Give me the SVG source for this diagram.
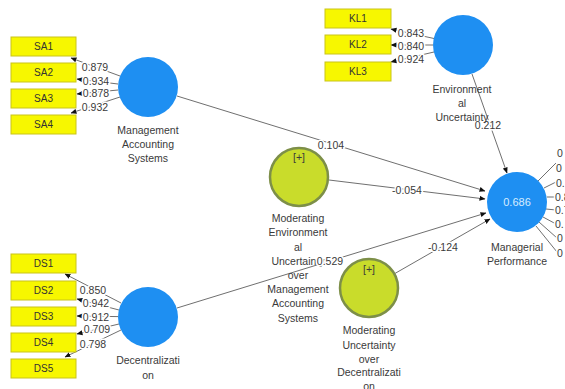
<svg xmlns="http://www.w3.org/2000/svg" width="565" height="389" viewBox="0 0 565 389">
<style>
  .bg { fill: #ffffff; }
  .ind rect { fill: #f7f700; stroke: #c9c41a; stroke-width: 1; }
  .ind text { font-family: "Liberation Sans", Arial, sans-serif; font-size: 10px; fill: #333; text-anchor: middle; }
  .lv { fill: #1e8ff2; }
  .mod { fill: #c9dc2b; stroke: #7d8f48; stroke-width: 2.5; }
  .lbl { font-family: "Liberation Sans", Arial, sans-serif; font-size: 10.5px; fill: #3a3a3a; text-anchor: middle; }
  .num { font-family: "Liberation Sans", Arial, sans-serif; font-size: 10.5px; fill: #3a3a3a; text-anchor: middle; stroke: #ffffff; stroke-width: 3; paint-order: stroke; stroke-linejoin: round; }
  .numl { font-family: "Liberation Sans", Arial, sans-serif; font-size: 10.5px; fill: #3a3a3a; text-anchor: start; stroke: #ffffff; stroke-width: 3; paint-order: stroke; stroke-linejoin: round; }
  .r2 { font-family: "Liberation Sans", Arial, sans-serif; font-size: 11px; fill: #d6ecff; text-anchor: middle; }
  .edge line { stroke: #4a4a4a; stroke-width: 0.8; fill: none; }
  .arr { marker-end: url(#ah); }
</style>
<defs>
  <marker id="ah" markerWidth="6" markerHeight="6" refX="5.5" refY="3" orient="auto" markerUnits="userSpaceOnUse">
    <path d="M0,0.5 L6,3 L0,5.5 Z" fill="#111"/>
  </marker>
</defs>
<rect class="bg" x="0" y="0" width="565" height="389"/>

<g id="connectors" class="edge">
  <!-- MAS outer loadings -->
  <line class="arr" x1="120" y1="76" x2="71" y2="58"/>
  <line class="arr" x1="118" y1="84" x2="77" y2="79"/>
  <line class="arr" x1="118" y1="90" x2="77" y2="94"/>
  <line class="arr" x1="120" y1="97" x2="71" y2="113"/>
  <!-- EU outer loadings -->
  <line class="arr" x1="434" y1="38.5" x2="391" y2="29"/>
  <line class="arr" x1="433" y1="45" x2="391" y2="45"/>
  <line class="arr" x1="434" y1="52" x2="391" y2="62"/>
  <!-- Decentralization outer loadings -->
  <line class="arr" x1="121" y1="303" x2="65" y2="274"/>
  <line class="arr" x1="119" y1="310" x2="77" y2="299"/>
  <line class="arr" x1="118" y1="316.6" x2="77" y2="316"/>
  <line class="arr" x1="119" y1="324" x2="77" y2="334"/>
  <line class="arr" x1="121" y1="330" x2="65" y2="357"/>
  <!-- inner paths -->
  <line class="arr" x1="472" y1="74" x2="507" y2="173"/>
  <line class="arr" x1="177" y1="96" x2="485" y2="191"/>
  <line class="arr" x1="329" y1="180" x2="485" y2="199"/>
  <line class="arr" x1="177" y1="308" x2="486" y2="213"/>
  <line class="arr" x1="394" y1="274" x2="490" y2="219"/>
  <!-- MP outer loadings (cut by frame) -->
  <line x1="538" y1="181" x2="556" y2="163"/>
  <line x1="544" y1="188" x2="556" y2="182"/>
  <line x1="547" y1="197" x2="556" y2="197"/>
  <line x1="546" y1="209" x2="556" y2="210"/>
  <line x1="543" y1="217" x2="556" y2="224"/>
  <line x1="539" y1="222" x2="557" y2="238"/>
  <line x1="536" y1="226" x2="557" y2="252"/>

  <!-- coefficient labels -->
  <text class="num" x="95" y="71">0.879</text>
  <text class="num" x="96" y="85">0.934</text>
  <text class="num" x="96" y="97">0.878</text>
  <text class="num" x="95" y="111">0.932</text>
  <text class="num" x="411" y="37">0.843</text>
  <text class="num" x="411" y="50">0.840</text>
  <text class="num" x="411" y="63">0.924</text>
  <text class="num" x="93" y="294">0.850</text>
  <text class="num" x="96" y="307">0.942</text>
  <text class="num" x="96" y="321">0.912</text>
  <text class="num" x="97" y="333">0.709</text>
  <text class="num" x="93" y="348">0.798</text>
  <text class="num" x="331" y="149">0.104</text>
  <text class="num" x="407" y="194">-0.054</text>
  <text class="num" x="488" y="129">0.212</text>
  <text class="num" x="443" y="251">-0.124</text>
  <text class="numl" x="557" y="157">0</text>
  <text class="numl" x="556" y="172">0</text>
  <text class="numl" x="556" y="187">0.</text>
  <text class="numl" x="555" y="201">0.8</text>
  <text class="numl" x="555" y="214">0.7</text>
  <text class="numl" x="555" y="228">0.</text>
  <text class="numl" x="557" y="242">0</text>
  <text class="numl" x="557" y="257">0</text>
</g>

<g id="SA1" class="ind"><rect x="11" y="37" width="65" height="19"/><text x="43.5" y="50">SA1</text></g>
<g id="SA2" class="ind"><rect x="11" y="63" width="65" height="19"/><text x="43.5" y="76">SA2</text></g>
<g id="SA3" class="ind"><rect x="11" y="89" width="65" height="19"/><text x="43.5" y="102">SA3</text></g>
<g id="SA4" class="ind"><rect x="11" y="115" width="65" height="19"/><text x="43.5" y="128">SA4</text></g>

<g id="KL1" class="ind"><rect x="325" y="9" width="66" height="19"/><text x="358" y="22">KL1</text></g>
<g id="KL2" class="ind"><rect x="325" y="35" width="66" height="19"/><text x="358" y="48">KL2</text></g>
<g id="KL3" class="ind"><rect x="325" y="62" width="66" height="19"/><text x="358" y="75">KL3</text></g>

<g id="DS1" class="ind"><rect x="11" y="254" width="65" height="19"/><text x="43.5" y="267">DS1</text></g>
<g id="DS2" class="ind"><rect x="11" y="281" width="65" height="19"/><text x="43.5" y="294">DS2</text></g>
<g id="DS3" class="ind"><rect x="11" y="307" width="65" height="19"/><text x="43.5" y="320">DS3</text></g>
<g id="DS4" class="ind"><rect x="11" y="333" width="65" height="19"/><text x="43.5" y="346">DS4</text></g>
<g id="DS5" class="ind"><rect x="11" y="359" width="65" height="19"/><text x="43.5" y="372">DS5</text></g>

<g id="MAS">
  <circle class="lv" cx="148" cy="87" r="30"/>
  <text class="lbl" x="148" y="134">Management</text>
  <text class="lbl" x="148" y="148">Accounting</text>
  <text class="lbl" x="148" y="162">Systems</text>
</g>

<g id="EU">
  <circle class="lv" cx="463" cy="45" r="30"/>
  <text class="lbl" x="462" y="93">Environment</text>
  <text class="lbl" x="462" y="107">al</text>
  <text class="lbl" x="462" y="121">Uncertainty</text>
</g>

<g id="MP">
  <circle class="lv" cx="517" cy="202" r="30"/>
  <text class="r2" x="517" y="206">0.686</text>
  <text class="lbl" x="517" y="251">Managerial</text>
  <text class="lbl" x="517" y="265">Performance</text>
</g>

<g id="DEC">
  <circle class="lv" cx="148" cy="317" r="30"/>
  <text class="lbl" x="148" y="364">Decentralizati</text>
  <text class="lbl" x="148" y="379">on</text>
</g>

<g id="MOD_EU_MAS">
  <circle class="mod" cx="299" cy="177" r="29"/>
  <text class="lbl" x="299" y="161">[+]</text>
  <text class="lbl" x="298" y="222">Moderating</text>
  <text class="lbl" x="298" y="236">Environment</text>
  <text class="lbl" x="298" y="251">al</text>
  <text class="lbl" x="298" y="265">Uncertainty</text>
  <text class="lbl" x="298" y="279">over</text>
  <text class="lbl" x="298" y="293">Management</text>
  <text class="lbl" x="298" y="307">Accounting</text>
  <text class="lbl" x="298" y="322">Systems</text>
</g>

<g id="MOD_U_DEC">
  <circle class="mod" cx="369" cy="288" r="29"/>
  <text class="lbl" x="369" y="273">[+]</text>
  <text class="lbl" x="369" y="334">Moderating</text>
  <text class="lbl" x="369" y="349">Uncertainty</text>
  <text class="lbl" x="369" y="363">over</text>
  <text class="lbl" x="369" y="376">Decentralizati</text>
  <text class="lbl" x="369" y="390">on</text>
</g>

<text class="num" x="330" y="265">0.529</text>
</svg>
